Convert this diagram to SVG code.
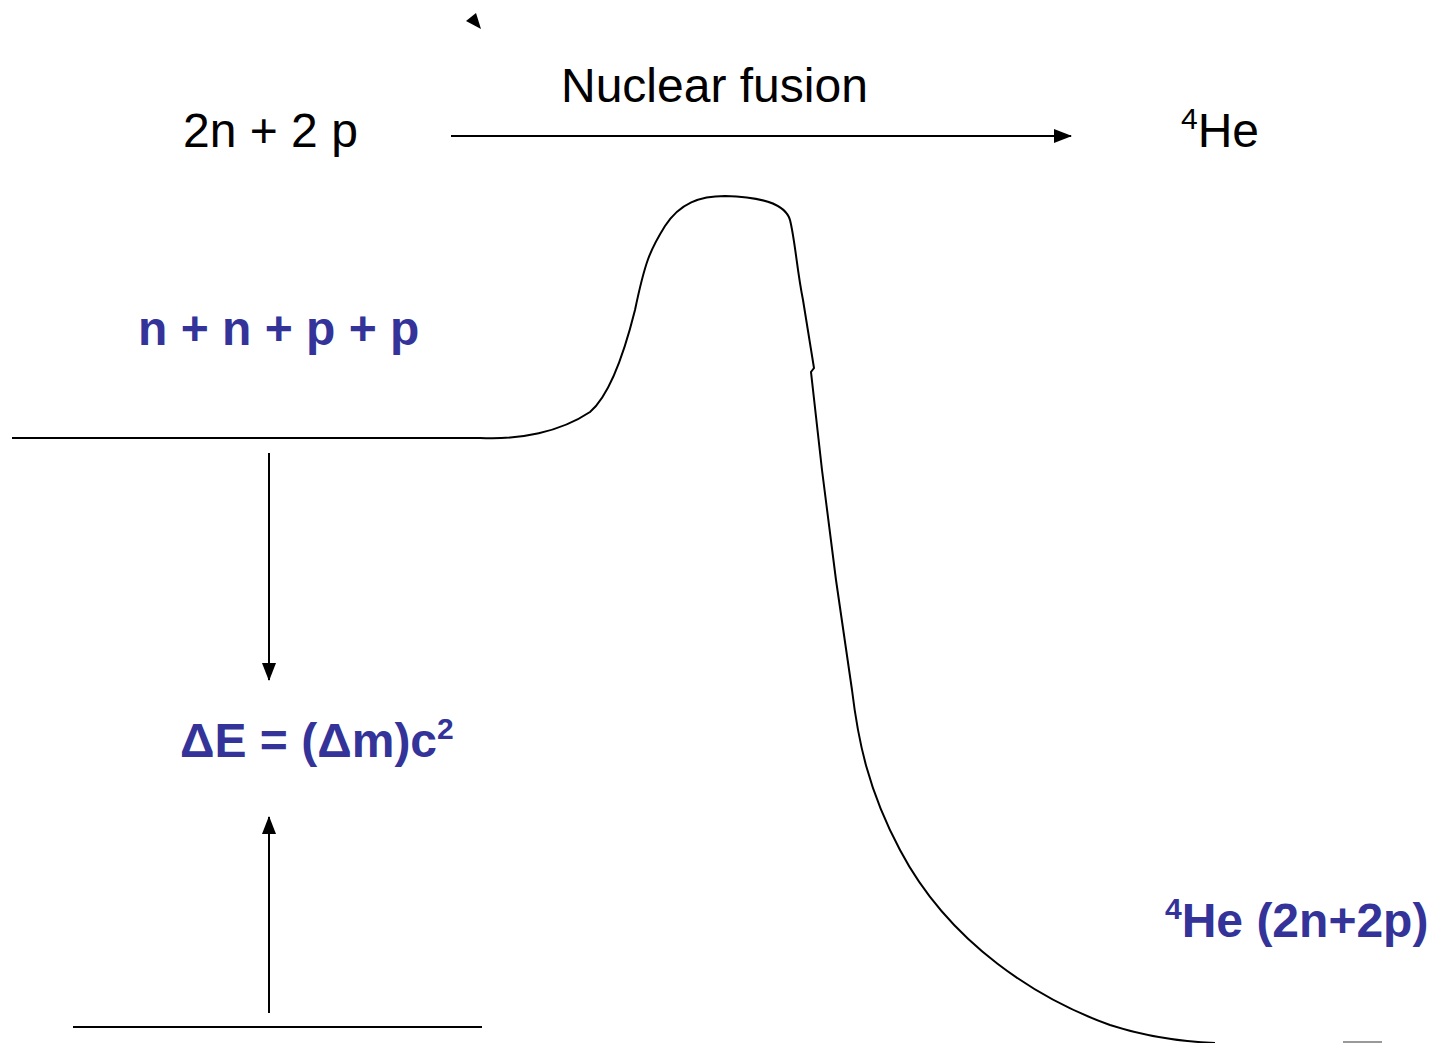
<svg xmlns="http://www.w3.org/2000/svg" width="1435" height="1043" viewBox="0 0 1435 1043">
<style>
.ln{fill:none;stroke:#000;stroke-width:2}
.t{font-family:"Liberation Sans",Arial,sans-serif;font-size:48px;fill:#000}
.b{font-family:"Liberation Sans",Arial,sans-serif;font-size:48px;font-weight:bold;fill:#333399}
</style>
<defs>
<marker id="ah" markerWidth="18" markerHeight="14" refX="17" refY="7" orient="auto" markerUnits="userSpaceOnUse">
<path d="M0,0 L18,7 L0,14 Z" fill="#000"/>
</marker>
</defs>
<rect width="1435" height="1043" fill="#fff"/>
<g id="connectors">
<line class="ln" x1="451" y1="136" x2="1071" y2="136" marker-end="url(#ah)"/>
<line class="ln" x1="269" y1="453" x2="269" y2="680" marker-end="url(#ah)"/>
<line class="ln" x1="269" y1="1013" x2="269" y2="817" marker-end="url(#ah)"/>
</g>
<g id="curve">
<path class="ln" d="M12,438 L480,438 C520,440 560,432 590,412 C610,395 625,350 635,310 C645,262 650,250 665,226 C680,203 700,196 725,196 C760,197 785,203 790,220 C795,240 797,270 803,300 L814,368 L811,372 L822,470 L836,580 L852,690 C858,740 868,790 900,850 C950,945 1040,1000 1110,1025 C1150,1038 1190,1042 1215,1043"/>
<line x1="73" y1="1027" x2="482" y2="1027" class="ln"/>
<line x1="1343" y1="1042" x2="1382" y2="1042" stroke="#999" stroke-width="2"/>
<path d="M466,21 L476,13 L481,29 Z" fill="#000"/>
</g>
<g id="label-reactants"><text class="t" x="183" y="147">2n + 2 p</text></g>
<g id="label-fusion"><text class="t" x="561" y="102">Nuclear fusion</text></g>
<g id="label-he"><text class="t" x="1181" y="147"><tspan font-size="30" dy="-18">4</tspan><tspan dy="18">He</tspan></text></g>
<g id="label-nnpp"><text class="b" x="138" y="345">n + n + p + p</text></g>
<g id="label-energy"><text class="b" x="180" y="757">ΔE = (Δm)c<tspan font-size="30" dy="-18">2</tspan></text></g>
<g id="label-he-product"><text class="b" x="1165" y="937"><tspan font-size="30" dy="-18">4</tspan><tspan dy="18">He (2n+2p)</tspan></text></g>
</svg>
